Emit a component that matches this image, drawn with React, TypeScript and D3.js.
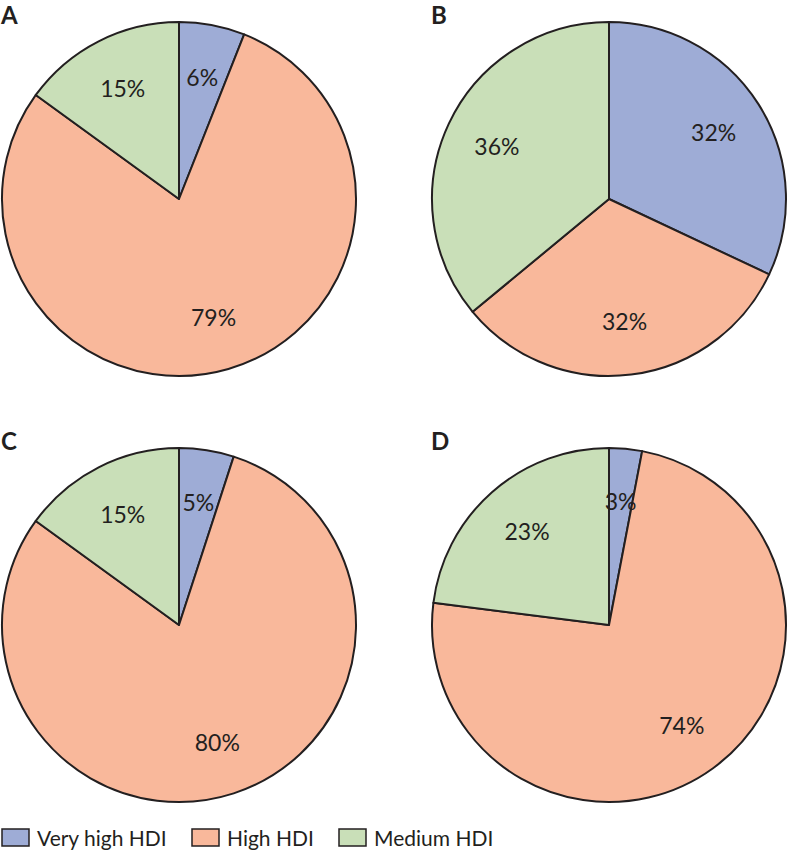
import React, { useEffect, useRef } from 'react';
import * as d3 from 'd3';

const categories = ['Very high HDI', 'High HDI', 'Medium HDI'];
const panelLetters = ['A', 'B', 'C', 'D'];
const panelA = [6, 79, 15];
const panelB = [32, 32, 36];
const panelC = [5, 80, 15];
const panelD = [3, 74, 23];
const panelValues = [panelA, panelB, panelC, panelD];

const colors = ['#9eacd6', '#f9b89b', '#c9dfb8'];
const stroke = '#231f20';
const fontFamily = 'Lato, "Open Sans", sans-serif';

const W = 788;
const H = 852;

const App = () => {
    const svgRef = useRef<SVGSVGElement>(null);

    useEffect(() => {
        document.body.style.margin = '0';
        const svg = d3.select(svgRef.current);
        svg.selectAll('*').remove();

        const radius = 177;
        const centers = [
            [179, 199],
            [609, 199],
            [179, 625],
            [609, 625],
        ];

        const pie = d3.pie<number>().value(d => d).sort(null);
        const arc = d3.arc<d3.PieArcDatum<number>>().innerRadius(0).outerRadius(radius);
        const labelArc = d3.arc<d3.PieArcDatum<number>>().innerRadius(radius * 0.7).outerRadius(radius * 0.7);

        panelValues.forEach((values, p) => {
            const [cx, cy] = centers[p];
            const g = svg.append('g').attr('transform', `translate(${cx},${cy})`);
            const arcs = pie(values);

            g.selectAll('path')
                .data(arcs)
                .enter()
                .append('path')
                .attr('d', arc)
                .attr('fill', (d, i) => colors[i])
                .attr('stroke', stroke)
                .attr('stroke-width', 2)
                .attr('stroke-linejoin', 'round');

            g.selectAll('text')
                .data(arcs)
                .enter()
                .append('text')
                .attr('transform', d => `translate(${labelArc.centroid(d)})`)
                .attr('text-anchor', 'middle')
                .attr('dy', '0.36em')
                .style('font-family', fontFamily)
                .style('font-size', '23px')
                .style('fill', stroke)
                .text(d => `${d.data}%`);

            svg.append('text')
                .attr('x', cx - 178)
                .attr('y', cy - 175)
                .style('font-family', fontFamily)
                .style('font-weight', 'bold')
                .style('font-size', '24px')
                .style('fill', stroke)
                .text(panelLetters[p]);
        });

        // Legend
        const legendX = [2, 192, 339];
        const legend = svg.append('g').attr('transform', `translate(0,829)`);
        categories.forEach((c, i) => {
            legend.append('rect')
                .attr('x', legendX[i])
                .attr('y', 0)
                .attr('width', 27)
                .attr('height', 17)
                .attr('fill', colors[i])
                .attr('stroke', stroke)
                .attr('stroke-width', 1.5);
            legend.append('text')
                .attr('x', legendX[i] + 35)
                .attr('y', 17)
                .style('font-family', fontFamily)
                .style('font-size', '21px')
                .style('fill', stroke)
                .text(c);
        });
    }, []);

    return (
        <div style={{ width: W, height: H }}>
            <svg ref={svgRef} width={W} height={H} style={{ display: 'block' }}></svg>
        </div>
    );
};

export default App;
